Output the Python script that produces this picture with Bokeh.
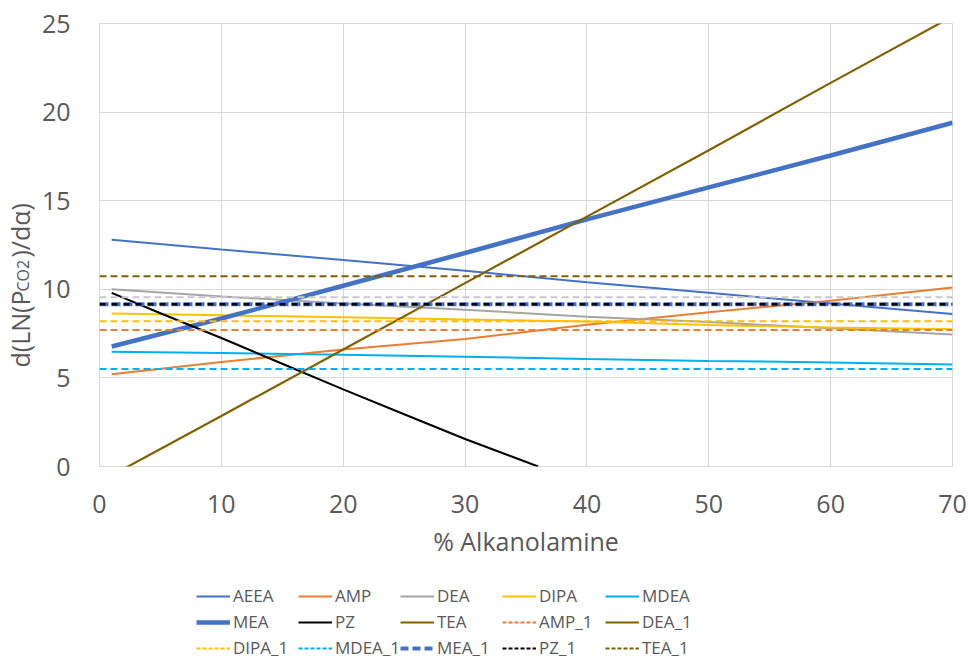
import math
from bokeh.plotting import figure
from bokeh.layouts import row, column
from bokeh.models import Range1d, Legend, LegendItem, Label, FixedTicker
from bokeh.embed import file_html
from bokeh.resources import INLINE

# ---- data ----
x_curve = [1, 10, 20, 30, 40, 50, 60, 70]
aeea = [12.8, 12.25, 11.65, 11.05, 10.4, 9.8, 9.2, 8.6]
amp = [5.2, 5.9, 6.6, 7.2, 8.0, 8.7, 9.35, 10.1]
dea = [10.0, 9.6, 9.2, 8.85, 8.45, 8.15, 7.8, 7.45]
dipa = [8.63, 8.53, 8.42, 8.3, 8.18, 7.98, 7.85, 7.75]
mdea = [6.47, 6.4, 6.3, 6.2, 6.07, 5.96, 5.87, 5.76]
mea = [6.77, 8.35, 10.2, 12.05, 13.95, 15.75, 17.55, 19.4]
tea = [-0.5, 2.85, 6.6, 10.35, 14.1, 17.85, 21.65, 25.4]
x_pz = [1, 5, 10, 15, 20, 25, 30, 36]
pz = [9.8, 8.65, 7.25, 5.8, 4.35, 2.95, 1.55, 0.0]

x_flat = [0, 70]
amp_1 = [7.7, 7.7]
dea_1 = [9.55, 9.55]
dipa_1 = [8.2, 8.2]
mdea_1 = [5.5, 5.5]
mea_1 = [9.15, 9.15]
pz_1 = [9.15, 9.15]
tea_1 = [10.73, 10.73]

x_ticks = [0, 10, 20, 30, 40, 50, 60, 70]
y_ticks = [0, 5, 10, 15, 20, 25]

legend_rows = [
    ["AEEA", "AMP", "DEA", "DIPA", "MDEA"],
    ["MEA", "PZ", "TEA", "AMP_1", "DEA_1"],
    ["DIPA_1", "MDEA_1", "MEA_1", "PZ_1", "TEA_1"],
]

# ---- colours / styles ----
C_BLUE = "#4472C4"
C_ORANGE = "#ED7D31"
C_GRAY = "#A5A5A5"
C_GOLD = "#FFC000"
C_LBLUE = "#00B0F0"
C_BLACK = "#000000"
C_BROWN = "#806000"
TXT = "#595959"
FONT = "Open Sans"

styles = {
    "AEEA": dict(line_color=C_BLUE, line_width=2),
    "AMP": dict(line_color=C_ORANGE, line_width=2),
    "DEA": dict(line_color=C_GRAY, line_width=2),
    "DIPA": dict(line_color=C_GOLD, line_width=2),
    "MDEA": dict(line_color=C_LBLUE, line_width=2),
    "MEA": dict(line_color=C_BLUE, line_width=4.5),
    "PZ": dict(line_color=C_BLACK, line_width=2),
    "TEA": dict(line_color=C_BROWN, line_width=2.2),
    "AMP_1": dict(line_color=C_ORANGE, line_width=2, line_dash="7 4"),
    "DEA_1": dict(line_color="#C9C9C9", line_width=2, line_dash="7 4"),
    "DIPA_1": dict(line_color=C_GOLD, line_width=2, line_dash="7 4"),
    "MDEA_1": dict(line_color=C_LBLUE, line_width=2, line_dash="7 4"),
    "MEA_1": dict(line_color=C_BLUE, line_width=4, line_dash="9 3"),
    "PZ_1": dict(line_color=C_BLACK, line_width=2.5, line_dash="6 6"),
    "TEA_1": dict(line_color=C_BROWN, line_width=2, line_dash="7 4"),
}
# the reference legend shows DEA_1 with a solid brown swatch
legend_styles = dict(styles)
legend_styles["DEA_1"] = dict(line_color=C_BROWN, line_width=2.2)
legend_styles["AMP_1"] = dict(line_color=C_ORANGE, line_width=2, line_dash="4 2")
legend_styles["DIPA_1"] = dict(line_color=C_GOLD, line_width=2, line_dash="4 2")
legend_styles["MDEA_1"] = dict(line_color=C_LBLUE, line_width=2, line_dash="4 2")
legend_styles["TEA_1"] = dict(line_color=C_BROWN, line_width=2, line_dash="4 2")
legend_styles["MEA_1"] = dict(line_color=C_BLUE, line_width=4, line_dash="8 4")
legend_styles["PZ_1"] = dict(line_color=C_BLACK, line_width=2, line_dash="4 2")

# ---- main chart ----
p = figure(width=930, height=570, x_range=Range1d(0, 70), y_range=Range1d(0, 25),
           output_backend="svg", toolbar_location=None,
           min_border_left=60, min_border_right=16, min_border_top=23, min_border_bottom=104)
p.background_fill_color = "white"
p.border_fill_color = "white"
p.outline_line_color = "#D9D9D9"

p.xaxis.ticker = FixedTicker(ticks=x_ticks)
p.yaxis.ticker = FixedTicker(ticks=y_ticks)
for ax in (p.xaxis[0], p.yaxis[0]):
    ax.axis_line_color = None
    ax.major_tick_line_color = None
    ax.minor_tick_line_color = None
    ax.major_label_text_font = FONT
    ax.major_label_text_font_size = "25px"
    ax.major_label_text_color = TXT
p.xaxis.major_label_standoff = 22
p.yaxis.major_label_standoff = 23
p.xaxis.axis_label = "% Alkanolamine"
p.xaxis.axis_label_text_font = FONT
p.xaxis.axis_label_text_font_size = "25px"
p.xaxis.axis_label_text_font_style = "normal"
p.xaxis.axis_label_text_color = TXT
p.xaxis.axis_label_standoff = 8

p.xgrid.grid_line_color = "#D9D9D9"
p.ygrid.grid_line_color = "#D9D9D9"

series = [
    ("AEEA", x_curve, aeea), ("AMP", x_curve, amp), ("DEA", x_curve, dea),
    ("DIPA", x_curve, dipa), ("MDEA", x_curve, mdea), ("MEA", x_curve, mea),
    ("PZ", x_pz, pz), ("TEA", x_curve, tea),
    ("AMP_1", x_flat, amp_1), ("DEA_1", x_flat, dea_1), ("DIPA_1", x_flat, dipa_1),
    ("MDEA_1", x_flat, mdea_1), ("MEA_1", x_flat, mea_1), ("PZ_1", x_flat, pz_1),
    ("TEA_1", x_flat, tea_1),
]
for name, xs, ys in series:
    p.line(xs, ys, **styles[name])

# ---- y axis title (with subscript) in a narrow side figure ----
ylab = figure(width=38, height=570, x_range=Range1d(0, 1), y_range=Range1d(0, 1),
              x_axis_type=None, y_axis_type=None, output_backend="svg",
              toolbar_location=None, min_border=0)
ylab.outline_line_color = None
ylab.background_fill_color = "white"
ylab.border_fill_color = "white"
lab_kw = dict(x_units="screen", y_units="screen", angle=math.pi / 2,
              text_font=FONT, text_color=TXT, text_align="left", text_baseline="alphabetic")
ylab.add_layout(Label(x=19, y=99, text="d(LN(P", text_font_size="25px", **lab_kw))
ylab.add_layout(Label(x=22, y=175, text="CO2", text_font_size="16px", **lab_kw))
ylab.add_layout(Label(x=19, y=209, text=")/dα)", text_font_size="25px", **lab_kw))

# ---- legend strip ----
leg = figure(width=968, height=98, x_range=Range1d(0, 1), y_range=Range1d(0, 1),
             x_axis_type=None, y_axis_type=None, output_backend="svg",
             toolbar_location=None, min_border=0)
leg.outline_line_color = None
leg.background_fill_color = "white"
leg.border_fill_color = "white"
# swatch renderers: their data lie outside the visible range, only the legend shows them
off_x = [5, 6]
off_y = [5, 5]
dummy = {name: leg.line(off_x, off_y, **legend_styles[name]) for name in styles}

col_x = [196, 298, 400, 502, 605]
for ci, cx in enumerate(col_x):
    names = [r[ci] for r in legend_rows]
    lg = Legend(items=[LegendItem(label=n, renderers=[dummy[n]]) for n in names],
                location=(cx, 9), orientation="vertical",
                padding=0, margin=0, spacing=3, glyph_width=34, glyph_height=20,
                label_height=20, label_standoff=3,
                label_text_font=FONT, label_text_font_size="17px", label_text_color=TXT,
                background_fill_alpha=0, border_line_alpha=0)
    leg.add_layout(lg, "center")

layout = column(row(ylab, p, spacing=0), leg, spacing=0)
open("out.html", "w").write(file_html(layout, INLINE))
